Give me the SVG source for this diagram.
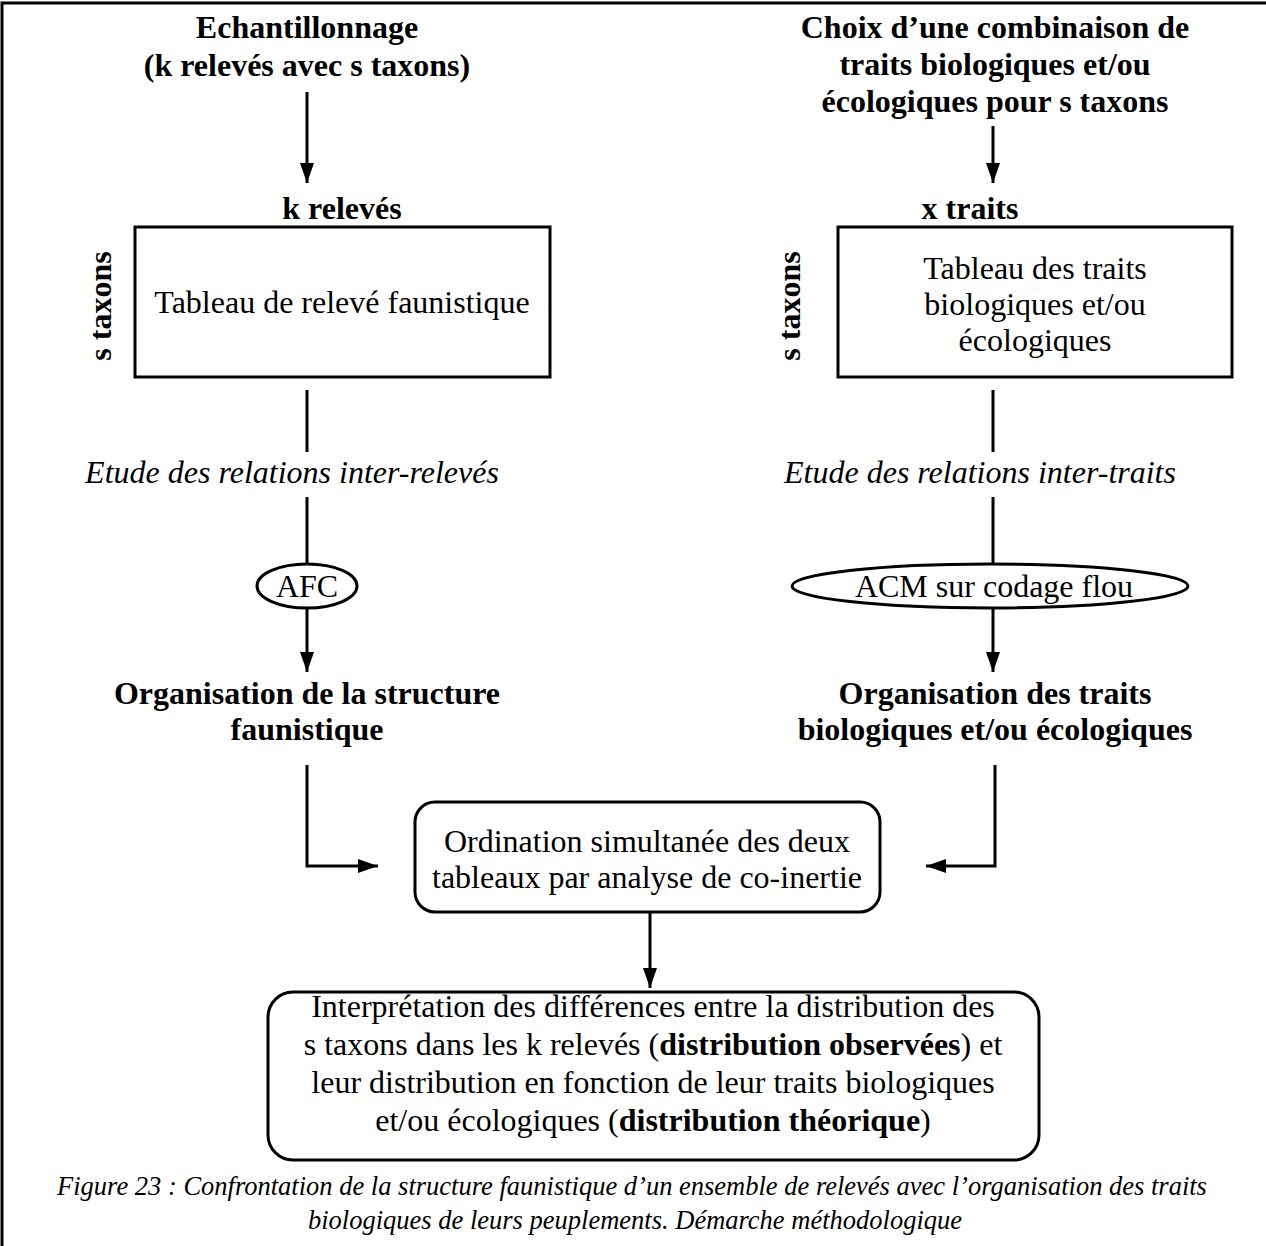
<svg xmlns="http://www.w3.org/2000/svg" width="1266" height="1246" viewBox="0 0 1266 1246">
<defs>
<style>
text{font-family:"Liberation Serif","Times New Roman",serif;fill:#000;}
.b{font-weight:bold;font-size:32px;}
.r{font-size:32px;}
.i{font-style:italic;font-size:32px;}
.cap{font-style:italic;font-size:26.5px;}
.c{text-anchor:middle;}
.ln{fill:none;stroke:#000;stroke-width:3;}
.box{fill:#fff;stroke:#000;stroke-width:3;}
</style>
<marker id="ah" viewBox="0 0 20 14" refX="20" refY="7" markerWidth="20" markerHeight="14" markerUnits="userSpaceOnUse" orient="auto">
<path d="M0,0 L20,7 L0,14 z" fill="#000"/>
</marker>
</defs>
<rect width="1266" height="1246" fill="#fff"/>
<g id="frame">
<path d="M2,1246 L2,3 L1266,3" fill="none" stroke="#000" stroke-width="3"/>
</g>
<g id="connectors">
<path class="ln" d="M307,92 L307,183" marker-end="url(#ah)"/>
<path class="ln" d="M993,126 L993,183" marker-end="url(#ah)"/>
<path class="ln" d="M307,390 L307,452"/>
<path class="ln" d="M307,497 L307,564"/>
<path class="ln" d="M307,608 L307,672" marker-end="url(#ah)"/>
<path class="ln" d="M993,390 L993,452"/>
<path class="ln" d="M993,497 L993,564"/>
<path class="ln" d="M993,608 L993,672" marker-end="url(#ah)"/>
<path class="ln" d="M307,765 L307,866 L378,866" marker-end="url(#ah)"/>
<path class="ln" d="M995,765 L995,866 L926,866" marker-end="url(#ah)"/>
<path class="ln" d="M650,912 L650,988" marker-end="url(#ah)"/>
</g>
<g id="title-left">
<text class="b c" x="307" y="38">Echantillonnage</text>
<text class="b c" x="307" y="76">(k relevés avec s taxons)</text>
</g>
<g id="title-right">
<text class="b c" x="995" y="38">Choix d’une combinaison de</text>
<text class="b c" x="995" y="75">traits biologiques et/ou</text>
<text class="b c" x="995" y="112">écologiques pour s taxons</text>
</g>
<g id="table-left">
<text class="b c" x="342" y="219">k relevés</text>
<rect class="box" x="135" y="227" width="415" height="150"/>
<text class="r c" x="342" y="313">Tableau de relevé faunistique</text>
<text class="b c" transform="translate(111,306) rotate(-90)">s taxons</text>
</g>
<g id="table-right">
<text class="b c" x="970" y="219">x traits</text>
<rect class="box" x="838" y="227" width="394" height="150"/>
<text class="r c" x="1035" y="279">Tableau des traits</text>
<text class="r c" x="1035" y="315">biologiques et/ou</text>
<text class="r c" x="1035" y="351">écologiques</text>
<text class="b c" transform="translate(800,306) rotate(-90)">s taxons</text>
</g>
<g id="label-left"><text class="i c" x="292" y="483">Etude des relations inter-relevés</text></g>
<g id="label-right"><text class="i c" x="980" y="483">Etude des relations inter-traits</text></g>
<g id="afc">
<ellipse class="box" cx="307" cy="586" rx="50" ry="22"/>
<text class="r c" x="307" y="597">AFC</text>
</g>
<g id="acm">
<ellipse class="box" cx="990" cy="586" rx="198" ry="22"/>
<text class="r c" x="994" y="597">ACM sur codage flou</text>
</g>
<g id="org-left">
<text class="b c" x="307" y="704">Organisation de la structure</text>
<text class="b c" x="307" y="740">faunistique</text>
</g>
<g id="org-right">
<text class="b c" x="995" y="704">Organisation des traits</text>
<text class="b c" x="995" y="740">biologiques et/ou écologiques</text>
</g>
<g id="ordination">
<rect class="box" x="415" y="802" width="465" height="110" rx="20" ry="20"/>
<text class="r c" x="647" y="852">Ordination simultanée des deux</text>
<text class="r c" x="647" y="888">tableaux par analyse de co-inertie</text>
</g>
<g id="interpretation">
<rect class="box" x="268" y="992" width="771" height="168" rx="25" ry="25"/>
<text class="r c" x="653" y="1017">Interprétation des différences entre la distribution des</text>
<text class="r c" x="653" y="1055">s taxons dans les k relevés (<tspan font-weight="bold">distribution observées</tspan>) et</text>
<text class="r c" x="653" y="1093">leur distribution en fonction de leur traits biologiques</text>
<text class="r c" x="653" y="1131">et/ou écologiques (<tspan font-weight="bold">distribution théorique</tspan>)</text>
</g>
<g id="caption">
<text class="cap c" x="632" y="1195">Figure 23 : Confrontation de la structure faunistique d’un ensemble de relevés avec l’organisation des traits</text>
<text class="cap c" x="635" y="1229">biologiques de leurs peuplements. Démarche méthodologique</text>
</g>
</svg>
